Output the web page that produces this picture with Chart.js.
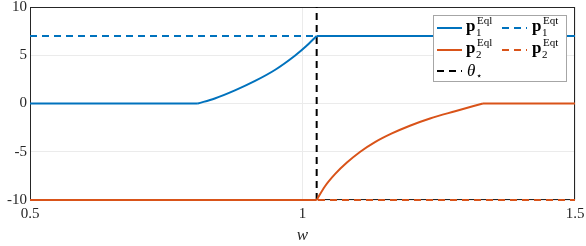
<!DOCTYPE html>
<html>
<head>
<meta charset="utf-8">
<script src="https://cdn.jsdelivr.net/npm/chart.js"></script>
<style>
  html, body { margin: 0; padding: 0; background: #fff; }
  #wrap { width: 586px; height: 246px; }
</style>
</head>
<body>
<div id="wrap"><canvas id="eqChart" width="586" height="246"></canvas></div>
<script>
    // values
    var thetaStar = 1.026;
    var p1FlatW = [0.5, 0.808];
    var p1FlatY = [0, 0];
    var p1CurveW = [0.808, 0.839, 0.876, 0.913, 0.950, 0.986, 1.006, 1.026];
    var p1CurveY = [0, 0.52, 1.36, 2.34, 3.5, 4.95, 5.9, 7];
    var p1TopW = [1.026, 1.5];
    var p1TopY = [7, 7];
    var p2FlatW = [0.5, 1.026];
    var p2FlatY = [-10, -10];
    var p2CurveW = [1.026, 1.041, 1.060, 1.082, 1.106, 1.133, 1.164, 1.197, 1.234, 1.280, 1.331];
    var p2CurveY = [-10, -8.6, -7.3, -6.1, -5.0, -4.0, -3.1, -2.3, -1.55, -0.8, 0];
    var p2TopW = [1.331, 1.5];
    var p2TopY = [0, 0];
    var p1EqtW = [0.5, 1.5];
    var p1EqtY = [7, 7];
    var p2EqtW = [0.5, 1.5];
    var p2EqtY = [-10, -10];
    var thetaY = [-10, 10];
    var xTicks = [0.5, 1, 1.5];
    var yTicks = [-10, -5, 0, 5, 10];

    var blue = '#0072BD';
    var orange = '#D95319';
    var serif = '"Liberation Serif", "DejaVu Serif", serif';

    function pts(xs, ys) {
        return xs.map(function (x, i) { return { x: x, y: ys[i] }; });
    }

    // axes box under the lines, legend on top, MATLAB style
    var boxPlugin = {
        id: 'box',
        beforeDatasetsDraw: function (chart) {
            var c = chart.ctx, a = chart.chartArea;
            c.save();
            c.strokeStyle = '#262626';
            c.lineWidth = 1;
            c.strokeRect(a.left + 0.5, a.top + 0.5, a.right - a.left - 1, a.bottom - a.top - 1);
            c.restore();
        },
        afterDatasetsDraw: function (chart) {
            var c = chart.ctx, a = chart.chartArea;
            c.save();
            var lx = a.right - 142, ly = a.top + 8;
            c.fillStyle = '#fff';
            c.fillRect(lx, ly, 134, 67);
            c.strokeStyle = '#a6a6a6';
            c.lineWidth = 1;
            c.strokeRect(lx + 0.5, ly + 0.5, 133, 66);

            function sample(x, y, color, dash) {
                c.beginPath();
                c.setLineDash(dash);
                c.strokeStyle = color;
                c.lineWidth = 2;
                c.moveTo(x, y);
                c.lineTo(x + 25, y);
                c.stroke();
                c.setLineDash([]);
            }
            function pLabel(x, y, sub, sup) {
                c.fillStyle = '#000';
                c.font = 'bold 17px ' + serif;
                c.textBaseline = 'alphabetic';
                c.fillText('p', x, y + 3);
                c.font = '11px ' + serif;
                c.fillText(sub, x + 10, y + 8);
                c.fillText(sup, x + 11, y - 4);
            }
            var r1 = ly + 13, r2 = ly + 35, r3 = ly + 56;
            sample(lx + 4, r1, blue, []);
            pLabel(lx + 33, r1, '1', 'Eql');
            sample(lx + 69, r1, blue, [7, 5]);
            pLabel(lx + 99, r1, '1', 'Eqt');
            sample(lx + 4, r2, orange, []);
            pLabel(lx + 33, r2, '2', 'Eql');
            sample(lx + 69, r2, orange, [7, 5]);
            pLabel(lx + 99, r2, '2', 'Eqt');
            sample(lx + 4, r3, '#000', [7, 5]);
            c.fillStyle = '#000';
            c.font = 'italic 17px ' + serif;
            c.fillText('\u03b8', lx + 34, r3 + 5);
            c.font = '10px ' + serif;
            c.fillText('\u22c6', lx + 43, r3 + 8);
            c.restore();
        }
    };

    var ctx = document.getElementById('eqChart').getContext('2d');
    var eqChart = new Chart(ctx, {
        type: 'line',
        data: {
            datasets: [
                { label: 'p1 Eqt', data: pts(p1EqtW, p1EqtY), borderColor: blue, borderDash: [7, 5] },
                { label: 'p2 Eqt', data: pts(p2EqtW, p2EqtY), borderColor: orange, borderDash: [7, 5], clip: 3 },
                { label: 'p1 Eql', data: pts(p1FlatW, p1FlatY), borderColor: blue },
                { label: 'p1 Eql', data: pts(p1CurveW, p1CurveY), borderColor: blue, cubicInterpolationMode: 'monotone' },
                { label: 'p1 Eql', data: pts(p1TopW, p1TopY), borderColor: blue },
                { label: 'p2 Eql', data: pts(p2FlatW, p2FlatY), borderColor: orange, clip: 3 },
                { label: 'p2 Eql', data: pts(p2CurveW, p2CurveY), borderColor: orange, cubicInterpolationMode: 'monotone', clip: 3 },
                { label: 'p2 Eql', data: pts(p2TopW, p2TopY), borderColor: orange },
                { label: 'theta', data: pts([thetaStar, thetaStar], thetaY), borderColor: '#000', borderDash: [7, 5] }
            ]
        },
        options: {
            responsive: false,
            animation: false,
            layout: { padding: { top: 7, right: 11, left: 0, bottom: 0 } },
            elements: {
                point: { radius: 0 },
                line: { borderWidth: 2, fill: false, tension: 0 }
            },
            plugins: { legend: { display: false }, tooltip: { enabled: false } },
            scales: {
                x: {
                    type: 'linear',
                    min: 0.5, max: 1.5,
                    afterBuildTicks: function (s) { s.ticks = xTicks.map(function (v) { return { value: v }; }); },
                    afterFit: function (s) { s.height = 46; s.paddingLeft = 0; s.paddingRight = 0; },
                    grid: { color: '#ebebeb', drawTicks: false },
                    border: { display: false },
                    ticks: {
                        color: '#262626', padding: 5,
                        font: { family: serif, size: 15 },
                        callback: function (v) { return String(v); }
                    },
                    title: {
                        display: true, text: 'w', color: '#262626',
                        font: { family: serif, size: 17, style: 'italic' },
                        padding: { top: 6, bottom: 0 }
                    }
                },
                y: {
                    min: -10, max: 10,
                    afterBuildTicks: function (s) { s.ticks = yTicks.map(function (v) { return { value: v }; }); },
                    afterFit: function (s) { s.width = 30; s.paddingTop = 0; s.paddingBottom = 0; },
                    grid: { color: '#ebebeb', drawTicks: false },
                    border: { display: false },
                    ticks: {
                        color: '#262626', padding: 3,
                        font: { family: serif, size: 15 },
                        callback: function (v) { return String(v); }
                    }
                }
            }
        },
        plugins: [boxPlugin]
    });
</script>
</body>
</html>
